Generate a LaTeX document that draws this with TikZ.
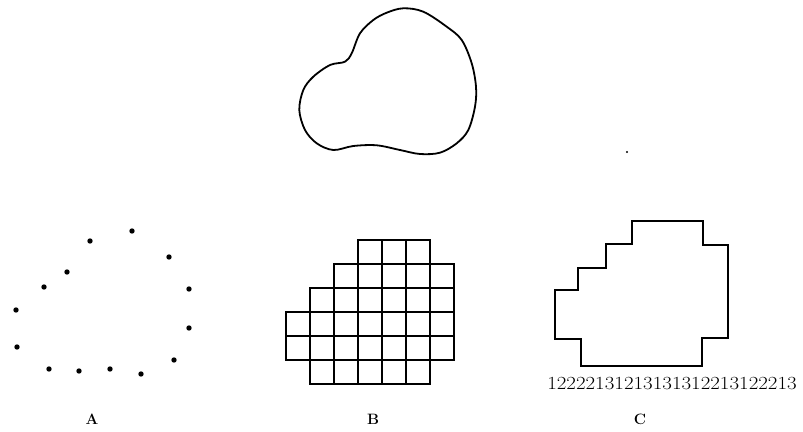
\documentclass[tikz,border=0pt]{standalone}
\begin{document}
\begin{tikzpicture}[x=1pt,y=-1pt,
  outline/.style={line width=1.8pt,line join=round},
  cellbox/.style={line width=1.3pt},
  chain/.style={line width=1.5pt,line join=miter},
  dotmark/.style={fill=black},
  lbl/.style={font=\fontsize{15}{15}\selectfont\bfseries,inner sep=0pt},
  code/.style={font=\fontsize{18.5}{18.5}\selectfont,inner sep=0pt}]
\useasboundingbox (0,0) rectangle (803,431);
% blob
\draw[outline] plot[smooth cycle,tension=0.55] coordinates {
 (403.3,8.3) (423.3,11.7) (446.7,26.7) (461.7,40) (471.7,63.3) (476,86.7)
 (475,106.7) (468.3,130) (456.7,143.3) (440,152.7) (420,154) (400,150)
 (376.7,145.3) (353.3,146) (333.3,150) (316.7,143.3) (305,130) (299.3,110)
 (303.3,90) (313.3,76.7) (330,65) (345,61.7) (351.7,53.3) (360,33.3)
 (373.3,20) (386.7,12.7)};
\fill (627,152) circle (1.2);
% A: dots
\foreach \px/\py in {132/231,90/241,169/257,67/272,44/287,189/289,16/310,
  189/328,17/347,174/360,49/369,79/371,110/369,141/374}
  \fill[dotmark] (\px,\py) circle (2.7);
\node[lbl] (la) at (92,419) {A};
% B: grid
\foreach \r/\a/\b in {0/3/5,1/2/6,2/1/6,3/0/6,4/0/6,5/1/5}
  \foreach \c in {\a,...,\b}
    \draw[cellbox] ({286+24*\c},{240+24*\r}) rectangle ++(24,24);
\node[lbl] (lb) at (373,419) {B};
% C: outline
\draw[chain] (632,221) -- (703,221) -- (703,245) -- (728,245) -- (728,338)
  -- (702,338) -- (702,366) -- (581,366) -- (581,339) -- (555,339)
  -- (555,290) -- (578,290) -- (578,268) -- (606,268) -- (606,244)
  -- (632,244) -- cycle;
\node[code] (codeC) at (672,384) {\scalebox{1.13}[1]{12222131213131312213122213}};
\node[lbl] (lc) at (640,419) {C};
\end{tikzpicture}
\end{document}
